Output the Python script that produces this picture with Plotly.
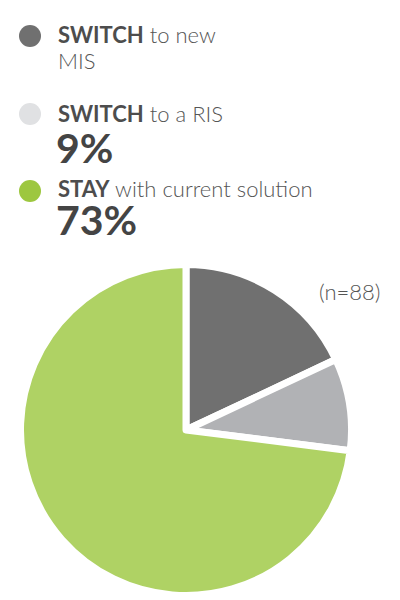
import plotly.graph_objects as go

# answers, clockwise from 12 o'clock
labels = ["SWITCH to new MIS", "SWITCH to a RIS", "STAY with current solution"]
values = [18, 9, 73]
slice_colors = ["#707070", "#b1b2b5", "#afd264"]

# legend bits (drawn by hand, the first item shows no percentage)
legend_bold = ["SWITCH", "SWITCH", "STAY"]
legend_rest = [["to new", "MIS"], ["to a RIS"], ["with current solution"]]
legend_pct = ["", "9%", "73%"]
legend_dots = ["#707070", "#e0e1e3", "#9dc73f"]
n_note = "(n=88)"

W, H = 400, 600
OFF = 8  # page body margin
FONT = "Lato"


def px(x):
    return (x - OFF) / W


def py(y):
    return 1 - (y - OFF) / H


fig = go.Figure(go.Pie(
    labels=labels,
    values=values,
    sort=False,
    direction="clockwise",
    rotation=0,
    textinfo="none",
    hoverinfo="label+percent",
    marker=dict(colors=slice_colors, line=dict(color="white", width=7)),
    domain=dict(x=[px(20.5), px(351.5)], y=[py(595.5), py(264.5)]),
    showlegend=False,
))

# dot centres / text line centres in pixels from the top of the page
dot_y = [36, 114, 191]
line_y = [34, 112.5, 188]
pct_y = [0, 146.5, 219]
LINE_GAP = 26

shapes = []
annotations = []
for i in range(len(labels)):
    cy = dot_y[i]
    shapes.append(dict(
        type="circle", xref="paper", yref="paper",
        x0=px(19), x1=px(41), y0=py(cy + 11), y1=py(cy - 11),
        fillcolor=legend_dots[i], line=dict(width=0),
    ))
    for j, part in enumerate(legend_rest[i]):
        if j == 0:
            txt = "<span style='color:#4d4d4d'><b>%s</b></span> %s" % (legend_bold[i], part)
        else:
            txt = part
        annotations.append(dict(
            xref="paper", yref="paper", x=px(57), y=py(line_y[i] + j * LINE_GAP),
            xanchor="left", yanchor="middle", valign="middle", height=24,
            borderpad=0, showarrow=False, text=txt,
            font=dict(family=FONT, size=22, color="#555555", weight=300),
        ))
    if legend_pct[i]:
        annotations.append(dict(
            xref="paper", yref="paper", x=px(55), y=py(pct_y[i]),
            xanchor="left", yanchor="middle", valign="middle", height=34,
            borderpad=0, showarrow=False,
            text="<b>%s</b>" % legend_pct[i],
            font=dict(family=FONT, size=41, color="#444444"),
        ))

annotations.append(dict(
    xref="paper", yref="paper", x=px(381), y=py(291),
    xanchor="right", yanchor="middle", showarrow=False, borderpad=0,
    text=n_note, font=dict(family=FONT, size=22, color="#555555", weight=300),
))

fig.update_layout(
    width=W, height=H,
    margin=dict(l=0, r=0, t=0, b=0),
    paper_bgcolor="white",
    plot_bgcolor="white",
    shapes=shapes,
    annotations=annotations,
)

fig.write_html("out.html")
